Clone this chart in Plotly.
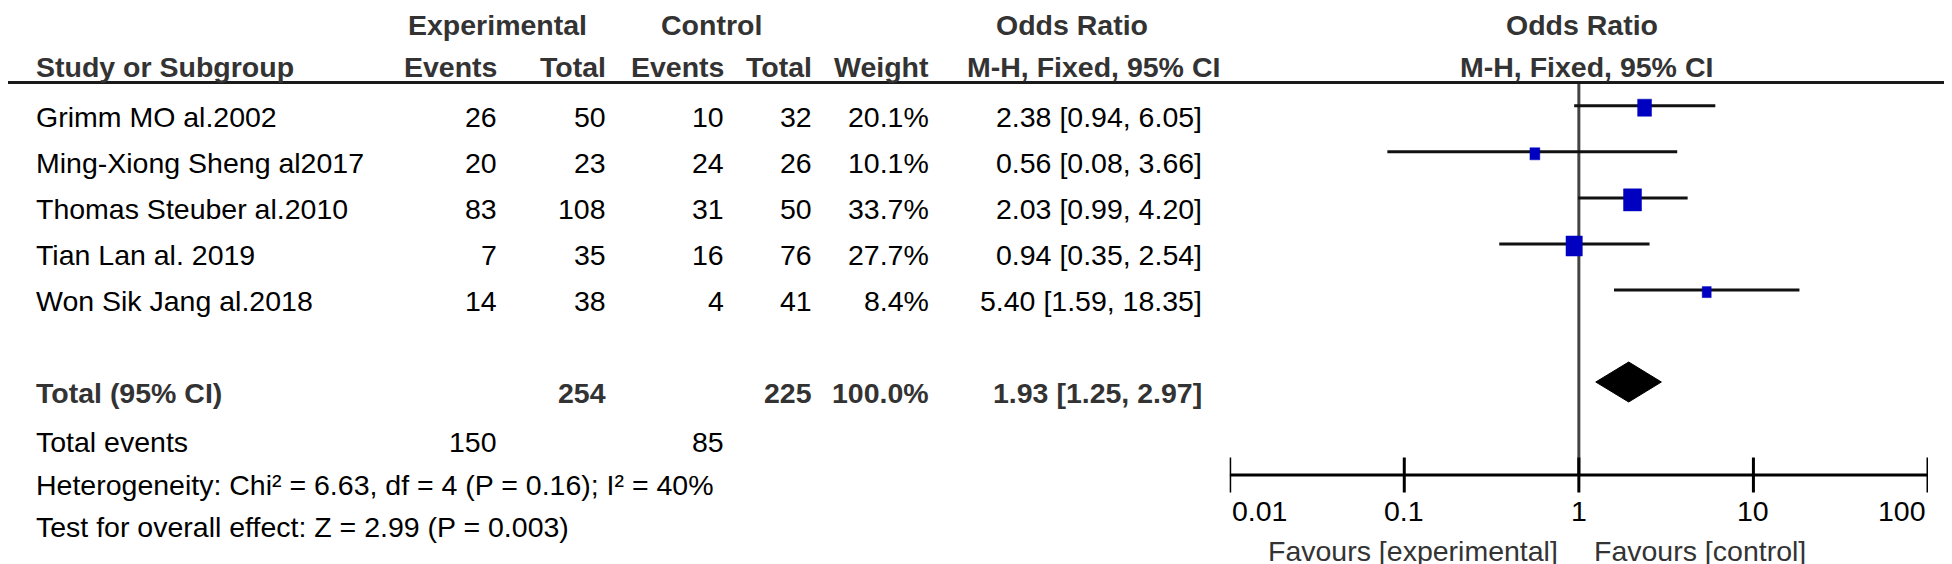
import math

import plotly.graph_objects as go

# study data
STUDIES = [
    "Grimm MO al.2002",
    "Ming-Xiong Sheng al2017",
    "Thomas Steuber al.2010",
    "Tian Lan al. 2019",
    "Won Sik Jang al.2018",
]
EXP_EVENTS = [26, 20, 83, 7, 14]
EXP_TOTAL = [50, 23, 108, 35, 38]
CTRL_EVENTS = [10, 24, 31, 16, 4]
CTRL_TOTAL = [32, 26, 50, 76, 41]
WEIGHTS = [20.1, 10.1, 33.7, 27.7, 8.4]
ODDS_RATIO = [2.38, 0.56, 2.03, 0.94, 5.40]
CI_LOW = [0.94, 0.08, 0.99, 0.35, 1.59]
CI_HIGH = [6.05, 3.66, 4.20, 2.54, 18.35]

TOTAL_EXP_N = 254
TOTAL_CTRL_N = 225
TOTAL_WEIGHT = 100.0
TOTAL_OR = 1.93
TOTAL_LOW = 1.25
TOTAL_HIGH = 2.97
TOTAL_EXP_EVENTS = 150
TOTAL_CTRL_EVENTS = 85

HETEROGENEITY = "Heterogeneity: Chi² = 6.63, df = 4 (P = 0.16); I² = 40%"
OVERALL_TEST = "Test for overall effect: Z = 2.99 (P = 0.003)"

TICK_VALUES = [0.01, 0.1, 1, 10, 100]
TICK_LABELS = ["0.01", "0.1", "1", "10", "100"]
FAVOURS_LEFT = "Favours [experimental]"
FAVOURS_RIGHT = "Favours [control]"

# layout (pixels)
W, H = 1952, 564
FONT = "Liberation Sans, Arial, sans-serif"
FS = 28.5
HEAD_COLOR = "#333333"
BOX_COLOR = "#0000c0"

ROW_Y0, ROW_GAP, TEXT_DY = 97.7, 46.1, 11
TOTAL_Y, TOTAL_TEXT_Y = 374, 385
EVENTS_Y, HET_Y, TEST_Y = 434, 477, 519
HEAD1_Y, HEAD2_Y, HEADER_LINE_Y = 17, 59, 74.5
AXIS_Y, TICKLABEL_Y, FAVOURS_Y = 467, 503, 543
DIAMOND_HALF = 20
PLOT_X0, PLOT_X1 = 1221.7, 1920
PX_PER_DECADE = (PLOT_X1 - PLOT_X0) / 4
BOX_W_K, BOX_H_K = 3.1, 3.8

fig = go.Figure()
annotations = []


def text(x, y, s, anchor="right", bold=False, color="#000000", xref="paper", xshift=0):
    xv = x / W if xref == "paper" else x
    annotations.append(
        dict(
            x=xv,
            y=y,
            xref=xref,
            yref="y",
            text=f"<b>{s}</b>" if bold else s,
            showarrow=False,
            xanchor=anchor,
            yanchor="middle",
            xshift=xshift,
            font=dict(family=FONT, size=FS, color=color),
        )
    )


# headers
text(489, HEAD1_Y, "Experimental", "center", True, HEAD_COLOR)
text(703.5, HEAD1_Y, "Control", "center", True, HEAD_COLOR)
text(1063.5, HEAD1_Y, "Odds Ratio", "center", True, HEAD_COLOR)
text(1574, HEAD1_Y, "Odds Ratio", "center", True, HEAD_COLOR)
text(26, HEAD2_Y, "Study or Subgroup", "left", True, HEAD_COLOR)
text(491, HEAD2_Y, "Events", "right", True, HEAD_COLOR)
text(600, HEAD2_Y, "Total", "right", True, HEAD_COLOR)
text(718, HEAD2_Y, "Events", "right", True, HEAD_COLOR)
text(806, HEAD2_Y, "Total", "right", True, HEAD_COLOR)
text(923, HEAD2_Y, "Weight", "right", True, HEAD_COLOR)
text(1085, HEAD2_Y, "M-H, Fixed, 95% CI", "center", True, HEAD_COLOR)
text(1578, HEAD2_Y, "M-H, Fixed, 95% CI", "center", True, HEAD_COLOR)

# study rows
row_y = [ROW_Y0 + i * ROW_GAP for i in range(len(STUDIES))]
for i, name in enumerate(STUDIES):
    ty = row_y[i] + TEXT_DY
    text(26, ty, name, "left")
    text(491, ty, str(EXP_EVENTS[i]))
    text(600, ty, str(EXP_TOTAL[i]))
    text(718, ty, str(CTRL_EVENTS[i]))
    text(806, ty, str(CTRL_TOTAL[i]))
    text(923, ty, f"{WEIGHTS[i]:.1f}%")
    text(1196, ty, f"{ODDS_RATIO[i]:.2f} [{CI_LOW[i]:.2f}, {CI_HIGH[i]:.2f}]")

# totals
text(26, TOTAL_TEXT_Y, "Total (95% CI)", "left", True, HEAD_COLOR)
text(600, TOTAL_TEXT_Y, str(TOTAL_EXP_N), "right", True, HEAD_COLOR)
text(806, TOTAL_TEXT_Y, str(TOTAL_CTRL_N), "right", True, HEAD_COLOR)
text(923, TOTAL_TEXT_Y, f"{TOTAL_WEIGHT:.1f}%", "right", True, HEAD_COLOR)
text(1196, TOTAL_TEXT_Y, f"{TOTAL_OR:.2f} [{TOTAL_LOW:.2f}, {TOTAL_HIGH:.2f}]", "right", True, HEAD_COLOR)
text(26, EVENTS_Y, "Total events", "left")
text(491, EVENTS_Y, str(TOTAL_EXP_EVENTS))
text(718, EVENTS_Y, str(TOTAL_CTRL_EVENTS))
text(26, HET_Y, HETEROGENEITY, "left")
text(26, TEST_Y, OVERALL_TEST, "left")

# header rule across the whole width
shapes = [
    dict(
        type="line", xref="paper", yref="y", x0=0, x1=1948 / W,
        y0=HEADER_LINE_Y, y1=HEADER_LINE_Y, line=dict(color="#1a1a1a", width=3),
    )
]

# line of no effect
fig.add_trace(
    go.Scatter(
        x=[1, 1], y=[HEADER_LINE_Y, AXIS_Y], mode="lines",
        line=dict(color="#444444", width=3), hoverinfo="skip",
    )
)

# confidence intervals
for i in range(len(STUDIES)):
    fig.add_trace(
        go.Scatter(
            x=[CI_LOW[i], CI_HIGH[i]], y=[row_y[i], row_y[i]], mode="lines",
            line=dict(color="#111111", width=3), hoverinfo="skip",
        )
    )

# weighted boxes (area follows weight)
for i in range(len(STUDIES)):
    half_w = BOX_W_K * math.sqrt(WEIGHTS[i]) / 2 / PX_PER_DECADE
    half_h = BOX_H_K * math.sqrt(WEIGHTS[i]) / 2
    x0 = ODDS_RATIO[i] * 10 ** (-half_w)
    x1 = ODDS_RATIO[i] * 10 ** half_w
    yc = row_y[i] + 2
    fig.add_trace(
        go.Scatter(
            x=[x0, x1, x1, x0, x0],
            y=[yc - half_h, yc - half_h, yc + half_h, yc + half_h, yc - half_h],
            mode="lines", fill="toself", fillcolor=BOX_COLOR,
            line=dict(color=BOX_COLOR, width=0.5), hoverinfo="skip",
        )
    )

# pooled diamond
fig.add_trace(
    go.Scatter(
        x=[TOTAL_LOW, TOTAL_OR, TOTAL_HIGH, TOTAL_OR, TOTAL_LOW],
        y=[TOTAL_Y, TOTAL_Y - DIAMOND_HALF, TOTAL_Y, TOTAL_Y + DIAMOND_HALF, TOTAL_Y],
        mode="lines", fill="toself", fillcolor="#000000",
        line=dict(color="#000000", width=1), hoverinfo="skip",
    )
)

# scale axis with crossing ticks
fig.add_trace(
    go.Scatter(
        x=[TICK_VALUES[0], TICK_VALUES[-1]], y=[AXIS_Y, AXIS_Y], mode="lines",
        line=dict(color="#000000", width=3), hoverinfo="skip",
    )
)
fig.add_trace(
    go.Scatter(
        x=TICK_VALUES, y=[AXIS_Y] * len(TICK_VALUES), mode="markers",
        marker=dict(symbol="line-ns", size=25, line=dict(color="#000000", width=3)),
        hoverinfo="skip",
    )
)
for i, (v, lab) in enumerate(zip(TICK_VALUES, TICK_LABELS)):
    anchor = "left" if i == 0 else ("right" if i == len(TICK_VALUES) - 1 else "center")
    text(math.log10(v), TICKLABEL_Y, lab, anchor, xref="x")

text(0, FAVOURS_Y, FAVOURS_LEFT, "right", color=HEAD_COLOR, xref="x", xshift=-19)
text(0, FAVOURS_Y, FAVOURS_RIGHT, "left", color=HEAD_COLOR, xref="x", xshift=13)

fig.update_layout(
    width=W,
    height=H,
    margin=dict(l=0, r=0, t=0, b=0),
    paper_bgcolor="white",
    plot_bgcolor="rgba(0,0,0,0)",
    showlegend=False,
    hovermode=False,
    annotations=annotations,
    shapes=shapes,
    xaxis=dict(type="log", range=[-2, 2], domain=[PLOT_X0 / W, PLOT_X1 / W], visible=False),
    yaxis=dict(range=[H, 0], domain=[0, 1], visible=False),
)

fig.write_html("out.html")
